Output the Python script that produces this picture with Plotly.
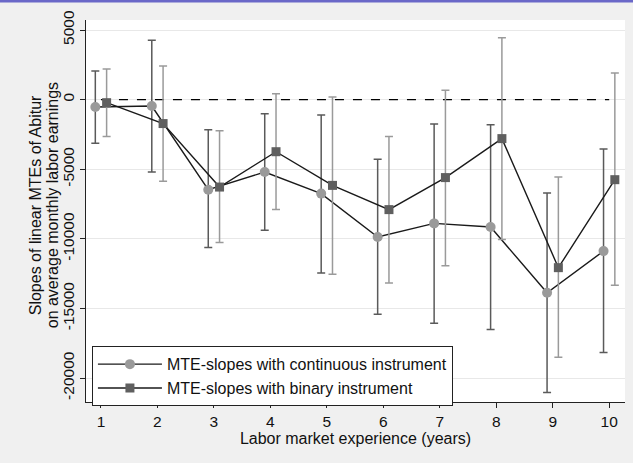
import plotly.graph_objects as go

# Labor market experience (years)
years = [1, 2, 3, 4, 5, 6, 7, 8, 9, 10]

# MTE slopes with continuous instrument: estimate and 95% CI bounds
cont_est = [-530, -460, -6470, -5200, -6750, -9870, -8890, -9150, -13870, -10880]
cont_hi = [2060, 4260, -2160, -1010, -1110, -4290, -1750, -1800, -6710, -3550]
cont_lo = [-3140, -5200, -10630, -9390, -12460, -15420, -16070, -16520, -21030, -18160]

# MTE slopes with binary instrument: estimate and 95% CI bounds
bin_est = [-220, -1720, -6280, -3740, -6160, -7900, -5600, -2800, -12070, -5750]
bin_hi = [2200, 2410, -2230, 430, 190, -2640, 670, 4450, -5560, 1910]
bin_lo = [-2640, -5870, -10270, -7900, -12550, -13180, -11930, -10040, -18510, -13340]

y_ticks = [5000, 0, -5000, -10000, -15000, -20000]
y_title_lines = ["Slopes of linear MTEs of Abitur", "on average monthly labor earnings"]

FONT = "Liberation Sans, Arial, sans-serif"
OFFSET = 0.1

x_cont = [x - OFFSET for x in years]
x_bin = [x + OFFSET for x in years]

fig = go.Figure()

# reference line at zero
fig.add_trace(go.Scatter(
    x=[years[0], years[-1]], y=[0, 0], mode="lines",
    line=dict(color="black", width=1.3, dash="dash"),
    showlegend=False, hoverinfo="skip",
))

fig.add_trace(go.Scatter(
    x=x_cont, y=cont_est, mode="lines+markers",
    name="MTE-slopes with continuous instrument",
    line=dict(color="#1a1a1a", width=1.4),
    marker=dict(symbol="circle", size=10, color="#9a9a9a"),
    error_y=dict(
        type="data", symmetric=False,
        array=[h - e for h, e in zip(cont_hi, cont_est)],
        arrayminus=[e - l for e, l in zip(cont_est, cont_lo)],
        color="#5a5a5a", thickness=1.5, width=4,
    ),
))

fig.add_trace(go.Scatter(
    x=x_bin, y=bin_est, mode="lines+markers",
    name="MTE-slopes with binary instrument",
    line=dict(color="#1a1a1a", width=1.4),
    marker=dict(symbol="square", size=9, color="#5f5f5f"),
    error_y=dict(
        type="data", symmetric=False,
        array=[h - e for h, e in zip(bin_hi, bin_est)],
        arrayminus=[e - l for e, l in zip(bin_est, bin_lo)],
        color="#9a9a9a", thickness=1.5, width=4,
    ),
))

# thin header band along the top edge
fig.add_shape(type="rect", xref="paper", yref="paper",
              x0=-0.2, x1=1.1, y0=1.0458, y1=1.06,
              fillcolor="#6a68c8", line=dict(width=0), layer="above")

# two-line vertical y-axis title, set as separate lines for tight spacing
PLOT_W = 633 - 86 - 8
for line_text, px_center in zip(y_title_lines, [35, 52]):
    fig.add_annotation(
        text=line_text, textangle=-90, showarrow=False,
        xref="paper", yref="paper",
        x=(px_center - 86) / PLOT_W, y=0.515,
        xanchor="center", yanchor="middle",
        font=dict(size=16, family=FONT, color="#111111"),
    )

fig.update_layout(
    width=633, height=463,
    margin=dict(l=86, r=8, t=20, b=61),
    paper_bgcolor="#f0f0f0",
    plot_bgcolor="white",
    font=dict(family=FONT, size=16, color="#111111"),
    legend=dict(
        x=0.011, y=0.146, xanchor="left", yanchor="top",
        bgcolor="white", bordercolor="#222222", borderwidth=1,
        font=dict(size=16), itemwidth=64, tracegroupgap=0,
    ),
    xaxis=dict(
        range=[0.735, 10.28],
        tickvals=years, ticktext=[str(v) for v in years],
        showgrid=False, zeroline=False,
        showline=True, linecolor="#222222", linewidth=1,
        ticks="outside", ticklen=5, tickcolor="#222222",
        tickfont=dict(size=15.5),
        title=dict(text="Labor market experience (years)", font=dict(size=16), standoff=2),
    ),
    yaxis=dict(
        range=[-21720, 5720],
        tickvals=y_ticks, ticktext=[str(v) for v in y_ticks],
        tickangle=-90,
        showgrid=True, gridcolor="#e8e8e8", gridwidth=1,
        zeroline=False,
        showline=True, linecolor="#222222", linewidth=1,
        ticks="outside", ticklen=5, tickcolor="#222222",
        tickfont=dict(size=15.5),
    ),
)

fig.write_html("out.html")
